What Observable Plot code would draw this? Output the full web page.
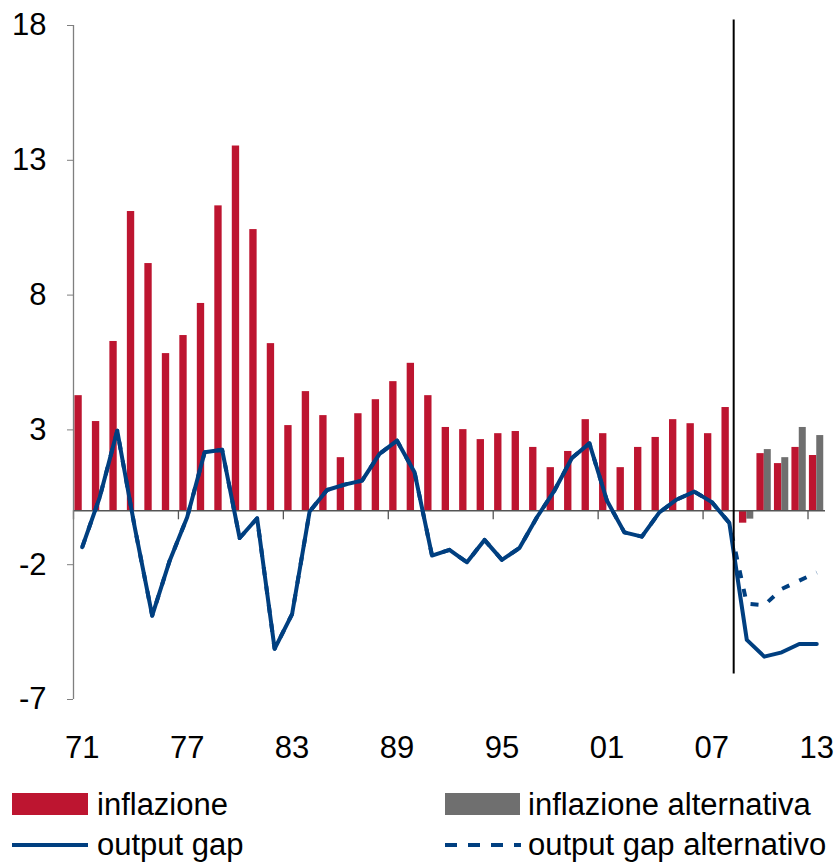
<!DOCTYPE html>
<html><head><meta charset="utf-8">
<script src="https://cdn.jsdelivr.net/npm/d3@7"></script>
<script src="https://cdn.jsdelivr.net/npm/@observablehq/plot@0.6"></script>
<style>
body{margin:0;background:#fff;font-family:"Liberation Sans",Arial,sans-serif;}
#wrap{position:relative;width:838px;height:862px;overflow:hidden;}
.lt{position:absolute;font-size:31px;line-height:31px;color:#000;white-space:nowrap;}
.sw{position:absolute;}
</style></head><body><div id="wrap"><div id="chart"></div></div>
<script>
const years = [1971,1972,1973,1974,1975,1976,1977,1978,1979,1980,1981,1982,1983,1984,1985,1986,1987,1988,1989,1990,1991,1992,1993,1994,1995,1996,1997,1998,1999,2000,2001,2002,2003,2004,2005,2006,2007,2008,2009,2010,2011,2012,2013];
const inflation = [4.27,3.31,6.28,11.1,9.17,5.83,6.5,7.69,11.31,13.53,10.43,6.2,3.16,4.42,3.53,1.97,3.6,4.12,4.79,5.47,4.27,3.09,3.01,2.64,2.86,2.94,2.35,1.6,2.2,3.38,2.86,1.6,2.35,2.72,3.38,3.23,2.86,3.83,-0.46,2.12,1.75,2.35,2.05];
const inflationAlt = [null,null,null,null,null,null,null,null,null,null,null,null,null,null,null,null,null,null,null,null,null,null,null,null,null,null,null,null,null,null,null,null,null,null,null,null,null,null,-0.31,2.27,1.97,3.09,2.79];
const outputGap = [-1.35,0.5,2.97,-0.61,-3.89,-1.85,-0.24,2.17,2.26,-1.01,-0.28,-5.12,-3.83,-0.03,0.77,0.97,1.12,2.11,2.6,1.43,-1.66,-1.45,-1.91,-1.08,-1.82,-1.38,-0.24,0.75,1.96,2.5,0.38,-0.8,-0.96,-0.06,0.42,0.71,0.32,-0.45,-4.79,-5.41,-5.25,-4.94,-4.94];
const outputGapAlt = [-1.35,0.5,2.97,-0.61,-3.89,-1.85,-0.24,2.17,2.26,-1.01,-0.28,-5.12,-3.83,-0.03,0.77,0.97,1.12,2.11,2.6,1.43,-1.66,-1.45,-1.91,-1.08,-1.82,-1.38,-0.24,0.75,1.96,2.5,0.38,-0.8,-0.96,-0.06,0.42,0.71,0.32,-0.45,-3.45,-3.5,-2.9,-2.59,-2.29];
const yTicks = [18,13,8,3,-2,-7];
const labelYears = [1971,1977,1983,1989,1995,2001,2007,2013];
const tickLabels = ["71","77","83","89","95","01","07","13"];
const forecastLine = 2008.25;
const seriesNames = ["inflazione","inflazione alternativa","output gap","output gap alternativo"];

const RED = "#BD1530", GRAY = "#6F6F6F", NAVY = "#003F80", AXIS = "#7F7F7F";
const data = years.map((year,i)=>({year, infl: inflation[i], inflAlt: inflationAlt[i], gap: outputGap[i], gapAlt: outputGapAlt[i]}));
const x0 = years[0]-0.5, x1 = years[years.length-1]+0.5;

const chart = Plot.plot({
  width: 838, height: 775,
  marginLeft: 73, marginRight: 13, marginTop: 25, marginBottom: 76,
  style: {fontFamily: '"Liberation Sans",Arial,sans-serif', fontSize: "31px", color: "#000", background: "#fff", overflow: "visible"},
  x: {type: "linear", domain: [x0, x1]},
  y: {domain: [-7, 18]},
  marks: [
    Plot.rectY(data, {x1: d => d.year - 0.42, x2: d => d.year, y: "infl", fill: RED}),
    Plot.rectY(data.filter(d => d.inflAlt != null), {x1: d => d.year, x2: d => d.year + 0.4, y: "inflAlt", fill: GRAY}),
    Plot.ruleY([0], {x1: x0, x2: x1, stroke: "#555", strokeWidth: 1.5}),
    Plot.ruleX(labelYears, {x: d => d - 0.5, y1: 0, y2: 0, insetBottom: -9, stroke: "#555", strokeWidth: 1.3}),
    Plot.ruleX([x0], {y1: -7, y2: 18, stroke: AXIS, strokeWidth: 1.3}),
    Plot.line(data, {x: "year", y: "gapAlt", stroke: NAVY, strokeWidth: 4, strokeDasharray: "8,11", strokeLinecap: "butt"}),
    Plot.line(data, {x: "year", y: "gap", stroke: NAVY, strokeWidth: 4}),
    Plot.ruleX([forecastLine], {y1: -6.05, y2: 18.2, stroke: "#000", strokeWidth: 2}),
    Plot.axisY({ticks: yTicks, tickFormat: d => String(d), tickSize: 6, tickPadding: 21, stroke: AXIS, fill: "#000", label: null}),
    Plot.axisX({ticks: labelYears, tickFormat: d => tickLabels[labelYears.indexOf(d)], tickSize: 0, tickPadding: 36, fill: "#000", label: null})
  ]
});
document.getElementById("chart").appendChild(chart);

// legend
const wrap = document.getElementById("wrap");
function add(html){ wrap.insertAdjacentHTML("beforeend", html); }
add(`<div class="sw" style="left:12px;top:793px;width:76px;height:22px;background:${RED}"></div>`);
add(`<div class="lt" style="left:97px;top:789px">${seriesNames[0]}</div>`);
add(`<div class="sw" style="left:445px;top:793px;width:75px;height:22px;background:${GRAY}"></div>`);
add(`<div class="lt" style="left:528px;top:789px">${seriesNames[1]}</div>`);
add(`<div class="sw" style="left:12px;top:843px;width:76px;height:4px;background:${NAVY}"></div>`);
add(`<div class="lt" style="left:97px;top:829px">${seriesNames[2]}</div>`);
add(`<svg class="sw" style="left:445px;top:841px" width="76" height="8"><line x1="0" y1="4" x2="76" y2="4" stroke="${NAVY}" stroke-width="4" stroke-dasharray="12,11"/></svg>`);
add(`<div class="lt" style="left:528px;top:829px">${seriesNames[3]}</div>`);
</script></body></html>
